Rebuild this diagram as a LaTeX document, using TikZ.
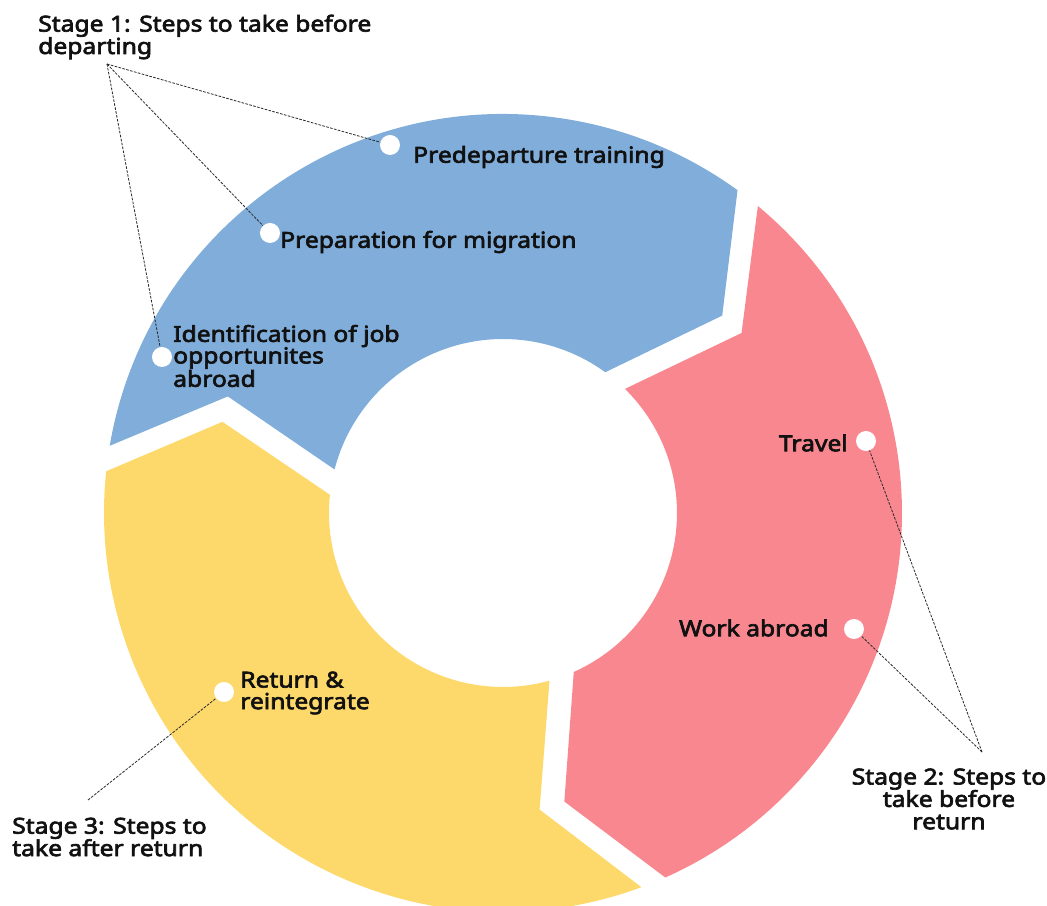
\documentclass[tikz,border=0pt]{standalone}
\usepackage{fontspec}
\setmainfont{Noto Sans}
\newfontfamily\lblfont{Noto Sans}[FakeBold=3, FakeStretch=1.12]
\usetikzlibrary{calc}
\definecolor{segblue}{HTML}{80ADDA}
\definecolor{segred}{HTML}{F9878F}
\definecolor{segyellow}{HTML}{FDD96B}
\definecolor{ink}{HTML}{111111}
\tikzset{
  x=0.75pt, y=0.75pt,
  dotmark/.style={circle, fill=white, draw=none, minimum size=15pt, inner sep=0pt},
  lbl/.style={font=\lblfont\fontsize{16.5}{16.2}\selectfont, text=ink, inner sep=0pt, align=left},
  stagelbl/.style={font=\lblfont\fontsize{16.5}{16.8}\selectfont, text=ink, inner sep=0pt},
  leader/.style={draw=ink!90, line width=0.6pt, dash pattern=on 2pt off 1pt},
}
\begin{document}
\begin{tikzpicture}
\useasboundingbox (-503,-393) rectangle (544,513);
% segments
\fill[segblue] (170.3:399) arc[start angle=170.3, end angle=54, radius=399]
  -- (42:295) -- (54:174) arc[start angle=54, end angle=165.5, radius=174]
  -- ($(162:295)+(78:26)$) -- cycle;
\fill[segred] (50.3:399) arc[start angle=50.3, end angle=-66, radius=399]
  -- (-78:295) -- (-66:174) arc[start angle=-66, end angle=45.5, radius=174]
  -- ($(42:295)+(-42:26)$) -- cycle;
\fill[segyellow] (-69.7:399) arc[start angle=-69.7, end angle=-186, radius=399]
  -- (162:295) -- (174:174) arc[start angle=-186, end angle=-74.5, radius=174]
  -- ($(-78:295)+(-162:26)$) -- cycle;
% dots
\node[dotmark] (d1) at (-113,368) {};
\node[dotmark] (d2) at (-233,280) {};
\node[dotmark] (d3) at (-341,156) {};
\node[dotmark] (d4) at (363,72) {};
\node[dotmark] (d5) at (351,-116) {};
\node[dotmark] (d6) at (-279,-179) {};
% step labels
\node[lbl, anchor=west] (t1) at (-90,356) {Predeparture training};
\node[lbl, anchor=west] (t2) at (-223,271) {Preparation for migration};
\node[lbl, anchor=west] (t3) at (-330,157) {Identification of job\\opportunites\\abroad};
\node[lbl, anchor=east] (t4) at (345,70) {Travel};
\node[lbl, anchor=east] (t5) at (326,-115) {Work abroad};
\node[lbl, anchor=west] (t6) at (-263,-180) {Return \&\\reintegrate};
% stage labels
\node[stagelbl, anchor=west, align=left] (s1t) at (-465,476) {Stage 1: Steps to take before\\departing};
\node[stagelbl, align=center] (s2t) at (446,-286) {Stage 2: Steps to\\take before\\return};
\node[stagelbl, anchor=west, align=left] (s3t) at (-491,-324) {Stage 3: Steps to\\take after return};
\coordinate (s1) at (-396,449);
\coordinate (s2) at (479,-239);
\coordinate (s3) at (-415,-287);
% leaders
\draw[leader] (s1) -- (d1);
\draw[leader] (s1) -- (d2);
\draw[leader] (s1) -- (d3);
\draw[leader] (s2) -- (d4);
\draw[leader] (s2) -- (d5);
\draw[leader] (s3) -- (d6);
\end{tikzpicture}
\end{document}
